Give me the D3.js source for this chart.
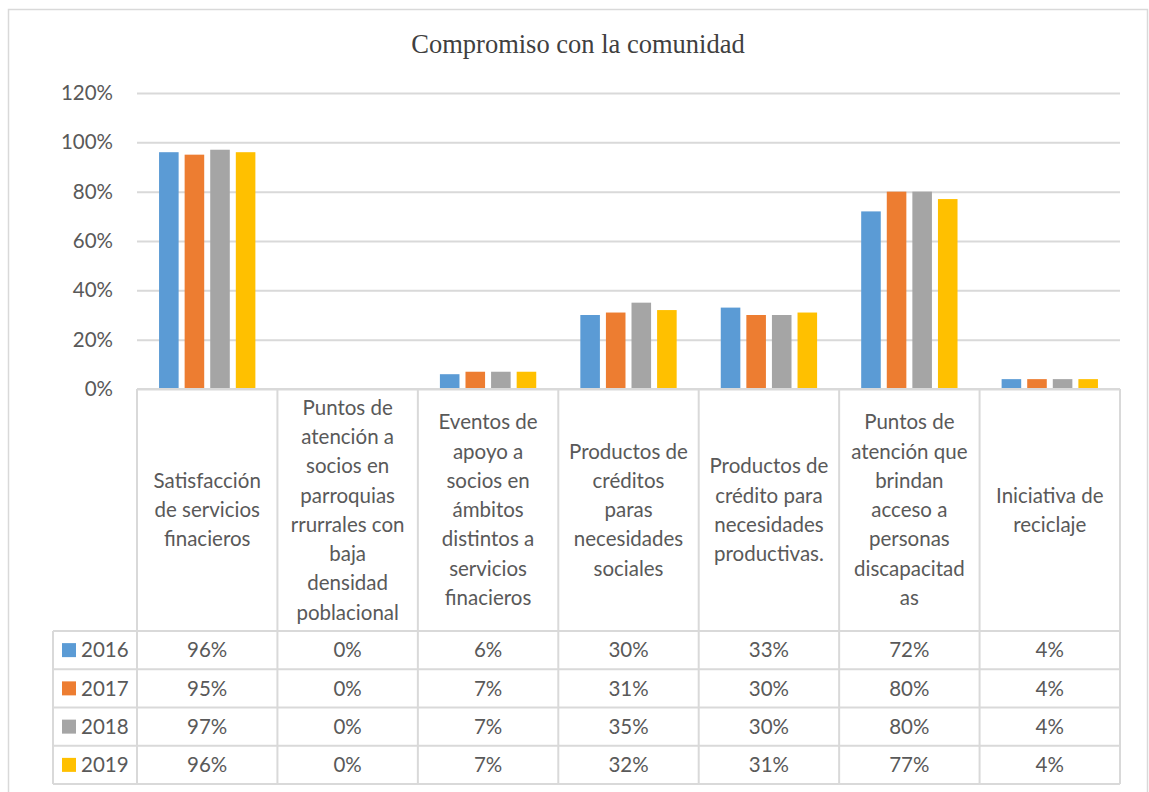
<!DOCTYPE html>
<html>
<head>
<meta charset="utf-8">
<script src="https://cdn.jsdelivr.net/npm/d3@7"></script>
<style>
  body { margin: 0; background: #fff; }
  svg { display: block; }
</style>
</head>
<body>
<svg id="chart"></svg>
<script>
// categories (line breaks as shown in the table header)
const categories = [
  "Satisfacción\nde servicios\nfinacieros",
  "Puntos de\natención a\nsocios en\nparroquias\nrrurrales con\nbaja\ndensidad\npoblacional",
  "Eventos de\napoyo a\nsocios en\námbitos\ndistintos a\nservicios\nfinacieros",
  "Productos de\ncréditos\nparas\nnecesidades\nsociales",
  "Productos de\ncrédito para\nnecesidades\nproductivas.",
  "Puntos de\natención que\nbrindan\nacceso a\npersonas\ndiscapacitad\nas",
  "Iniciativa de\nreciclaje"
];
const years = ["2016", "2017", "2018", "2019"];
const v2016 = [0.96, 0, 0.06, 0.30, 0.33, 0.72, 0.04];
const v2017 = [0.95, 0, 0.07, 0.31, 0.30, 0.80, 0.04];
const v2018 = [0.97, 0, 0.07, 0.35, 0.30, 0.80, 0.04];
const v2019 = [0.96, 0, 0.07, 0.32, 0.31, 0.77, 0.04];
const yTicks = [0, 0.2, 0.4, 0.6, 0.8, 1.0, 1.2];
const colors = ["#5B9BD5", "#ED7D31", "#A5A5A5", "#FFC000"];

const series = [v2016, v2017, v2018, v2019];
const width = 1149, height = 792;
const plot = { left: 137, right: 1120, top: 93, bottom: 389 };
const legendLeft = 53;
const headerBottom = 631, rowH = 38.25;
const gridColor = "#d9d9d9", textColor = "#595959";
const font = "Lato, 'Open Sans', sans-serif";
const fs = 20.5;

const svg = d3.select("#chart").attr("width", width).attr("height", height);

// outer chart border
svg.append("rect")
  .attr("x", 8.5).attr("y", 9.5)
  .attr("width", 1139).attr("height", 800)
  .attr("fill", "none").attr("stroke", gridColor).attr("stroke-width", 1.5);

// title
svg.append("text")
  .attr("x", 578).attr("y", 53)
  .attr("text-anchor", "middle")
  .attr("font-family", "'Liberation Serif', 'Times New Roman', serif")
  .attr("font-size", 26.5)
  .attr("fill", "#404040")
  .text("Compromiso con la comunidad");

// scales
const x = d3.scaleBand()
  .domain(d3.range(categories.length))
  .range([plot.left, plot.right]);
const bw = x.bandwidth();
const x1 = d3.scaleBand()
  .domain(years)
  .range([bw * 0.157, bw * 0.843])
  .paddingInner(0.235);
const y = d3.scaleLinear().domain([0, 1.2]).range([plot.bottom, plot.top]);

// y axis + gridlines
const yAxis = svg.append("g")
  .attr("transform", "translate(" + plot.left + ",0)")
  .call(
    d3.axisLeft(y)
      .tickValues(yTicks)
      .tickFormat(d3.format(".0%"))
      .tickSize(-(plot.right - plot.left))
      .tickPadding(24)
  );
yAxis.select(".domain").remove();
yAxis.selectAll("line")
  .attr("stroke", gridColor).attr("stroke-width", 2);
yAxis.selectAll("text")
  .attr("font-family", font).attr("font-size", fs)
  .attr("fill", textColor);

// bars
years.forEach((yr, s) => {
  svg.append("g")
    .selectAll("rect")
    .data(series[s])
    .join("rect")
    .attr("x", (d, i) => x(i) + x1(yr))
    .attr("y", (d) => y(d))
    .attr("width", x1.bandwidth())
    .attr("height", (d) => y(0) - y(d))
    .attr("fill", colors[s]);
});

// data table
const table = svg.append("g");
const line = (x1_, y1_, x2_, y2_) =>
  table.append("line")
    .attr("x1", x1_).attr("y1", y1_).attr("x2", x2_).attr("y2", y2_)
    .attr("stroke", gridColor).attr("stroke-width", 2);

const tableBottom = headerBottom + rowH * years.length;
line(plot.left, plot.bottom, plot.right, plot.bottom);
for (let r = 0; r <= years.length; r++) {
  const yy = headerBottom + r * rowH;
  line(legendLeft, yy, plot.right, yy);
}
line(legendLeft, headerBottom, legendLeft, tableBottom);
for (let i = 0; i <= categories.length; i++) {
  const xx = i < categories.length ? x(i) : plot.right;
  line(xx, plot.bottom, xx, tableBottom);
}

// header text
const lineH = 29.3;
categories.forEach((c, i) => {
  const lines = c.split("\n");
  const cy = (plot.bottom + headerBottom) / 2;
  const y0 = cy - (lines.length - 1) * lineH / 2;
  const t = table.append("text")
    .attr("text-anchor", "middle")
    .attr("font-family", font).attr("font-size", fs)
    .attr("fill", textColor);
  lines.forEach((l, k) => {
    t.append("tspan")
      .attr("x", x(i) + bw / 2)
      .attr("y", y0 + k * lineH)
      .attr("dy", "0.35em")
      .text(l);
  });
});

// rows: legend key + values
const fmt = d3.format(".0%");
years.forEach((yr, s) => {
  const cy = headerBottom + s * rowH + rowH / 2;
  table.append("rect")
    .attr("x", 62).attr("y", cy - 7)
    .attr("width", 14).attr("height", 14)
    .attr("fill", colors[s]);
  table.append("text")
    .attr("x", 81).attr("y", cy).attr("dy", "0.35em")
    .attr("font-family", font).attr("font-size", fs)
    .attr("fill", textColor)
    .text(yr);
  table.append("g")
    .selectAll("text")
    .data(series[s])
    .join("text")
    .attr("x", (d, i) => x(i) + bw / 2)
    .attr("y", cy).attr("dy", "0.35em")
    .attr("text-anchor", "middle")
    .attr("font-family", font).attr("font-size", fs)
    .attr("fill", textColor)
    .text((d) => fmt(d));
});
</script>
</body>
</html>
